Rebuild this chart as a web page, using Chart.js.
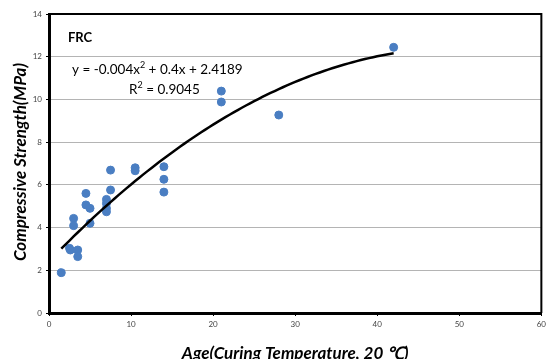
<!DOCTYPE html>
<html>
<head>
<meta charset="utf-8">
<script src="https://cdn.jsdelivr.net/npm/chart.js@4"></script>
<style>
  html, body { margin: 0; padding: 0; background: #fff; }
  #wrap { width: 550px; height: 359px; }
</style>
</head>
<body>
<div id="wrap"><canvas id="c" width="550" height="359"></canvas></div>
<script>
// Measured specimens: age (days) and compressive strength (MPa)
const ages      = [1.5, 2.5, 2.6, 3.0, 3.0, 3.5, 3.5, 4.5, 4.5, 5.0, 5.0, 7.0, 7.0, 7.0, 7.0, 7.5, 7.5, 10.5, 10.5, 14.0, 14.0, 14.0, 21.0, 21.0, 28.0, 42.0];
const strengths = [1.89, 3.03, 2.95, 4.43, 4.09, 2.95, 2.64, 5.60, 5.06, 4.90, 4.20, 5.32, 5.13, 4.90, 4.74, 5.76, 6.69, 6.80, 6.66, 6.85, 6.26, 5.66, 10.39, 9.88, 9.27, 12.44];

// Polynomial trendline y = a·x² + b·x + c (as printed on the chart)
const trendCoef = [-0.004, 0.4, 2.4189];
const rSquared = 0.9045;
const trendRange = [1.5, 42];

// Axis ticks
const xTicks = [0, 10, 20, 30, 40, 50, 60];
const yTicks = [0, 2, 4, 6, 8, 10, 12, 14];

const scatterData = ages.map((x, i) => ({ x: x, y: strengths[i] }));

const trendData = [];
for (let x = trendRange[0]; x <= trendRange[1] + 1e-9; x += 0.5) {
  trendData.push({ x: x, y: trendCoef[0] * x * x + trendCoef[1] * x + trendCoef[2] });
}

const family = 'Lato, "Open Sans", sans-serif';
const titleFont = 'bold italic 17px ' + family;

const decorations = {
  id: 'decorations',
  afterDraw(chart) {
    const ctx = chart.ctx;
    const a = chart.chartArea;
    ctx.save();
    // top and right frame
    ctx.strokeStyle = '#000';
    ctx.lineWidth = 2;
    ctx.beginPath();
    ctx.moveTo(a.left, a.top);
    ctx.lineTo(a.right, a.top);
    ctx.lineTo(a.right, a.bottom);
    ctx.stroke();

    ctx.fillStyle = '#000';
    // series label
    ctx.font = 'bold 13px ' + family;
    ctx.textAlign = 'left';
    ctx.textBaseline = 'middle';
    ctx.fillText('FRC', 68, 38);

    // equation
    const big = '13.5px ' + family;
    const sup = '9px ' + family;
    ctx.font = big;
    const parts = ['y = ' + trendCoef[0] + 'x', '2', ' + ' + trendCoef[1] + 'x + ' + trendCoef[2]];
    let x = 72;
    const y = 70;
    ctx.fillText(parts[0], x, y);
    x += ctx.measureText(parts[0]).width;
    ctx.font = sup;
    ctx.fillText(parts[1], x, y - 5);
    x += ctx.measureText(parts[1]).width;
    ctx.font = big;
    ctx.fillText(parts[2], x, y);

    // R squared
    let rx = 129;
    const ry = 90;
    ctx.fillText('R', rx, ry);
    rx += ctx.measureText('R').width;
    ctx.font = sup;
    ctx.fillText('2', rx, ry - 5);
    rx += ctx.measureText('2').width;
    ctx.font = big;
    ctx.fillText(' = ' + rSquared.toFixed(4), rx, ry);

    // axis titles
    ctx.font = titleFont;
    ctx.textAlign = 'center';
    ctx.fillText('Age(Curing Temperature, 20 \u2103)', (a.left + a.right) / 2, 354);
    ctx.translate(21, 162);
    ctx.rotate(-Math.PI / 2);
    ctx.fillText('Compressive Strength(MPa)', 0, 0);
    ctx.restore();
  }
};

new Chart(document.getElementById('c'), {
  type: 'scatter',
  data: {
    datasets: [
      {
        type: 'line',
        label: 'Trend',
        data: trendData,
        borderColor: '#000',
        borderWidth: 2.5,
        pointRadius: 0,
        fill: false,
        tension: 0,
        order: 1
      },
      {
        label: 'FRC',
        data: scatterData,
        backgroundColor: '#4A7EC2',
        borderColor: '#4A7EC2',
        pointRadius: 4,
        pointHoverRadius: 4,
        order: 2
      }
    ]
  },
  options: {
    responsive: false,
    animation: false,
    layout: { padding: { top: 14, right: 6, left: 0, bottom: 0 } },
    plugins: {
      legend: { display: false },
      tooltip: { enabled: false }
    },
    scales: {
      x: {
        type: 'linear',
        min: xTicks[0],
        max: xTicks[xTicks.length - 1],
        afterBuildTicks(scale) { scale.ticks = xTicks.map(v => ({ value: v })); },
        afterFit(scale) { scale.height = 46; },
        grid: { display: true, drawOnChartArea: false, tickLength: 3, color: '#000' },
        border: { display: true, color: '#000', width: 3 },
        ticks: { color: '#444', font: { size: 8, family: family }, padding: 4, maxRotation: 0 }
      },
      y: {
        type: 'linear',
        min: yTicks[0],
        max: yTicks[yTicks.length - 1],
        afterBuildTicks(scale) { scale.ticks = yTicks.map(v => ({ value: v })); },
        afterFit(scale) { scale.width = 49; },
        grid: { color: '#b4b4b4', lineWidth: 1, tickLength: 3, tickColor: '#000' },
        border: { display: true, color: '#000', width: 3 },
        ticks: { color: '#444', font: { size: 8, family: family }, padding: 4 }
      }
    }
  },
  plugins: [decorations]
});
</script>
</body>
</html>
